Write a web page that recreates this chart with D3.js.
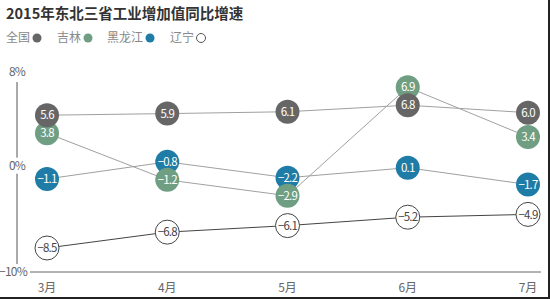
<!DOCTYPE html>
<html lang="zh">
<head>
  <meta charset="UTF-8">
  <title>2015年东北三省工业增加值同比增速</title>
  <script src="https://d3js.org/d3.v7.min.js"></script>
  <style>
    body {
      margin: 0;
      background: #fff;
      font-family: "Noto Sans CJK SC", "Noto Sans", sans-serif;
    }
    svg {
      display: block;
    }
  </style>
</head>
<body>
  <svg width="550" height="299"></svg>

  <script>
    const months = ["3月", "4月", "5月", "6月", "7月"];
    const national = [5.6, 5.9, 6.1, 6.8, 6.0];
    const jilin = [3.8, -1.2, -2.9, 6.9, 3.4];
    const heilongjiang = [-1.1, -0.8, -2.2, 0.1, -1.7];
    const liaoning = [-8.5, -6.8, -6.1, -5.2, -4.9];
    const yTicks = [8, 0, -10];

    const width = 550;
    const height = 299;
    const r = 12;

    const svg = d3.select("svg");

    // series, in drawing order (bottom first)
    const series = [
      {name: "黑龙江", values: heilongjiang, fill: "#1f7ca6", stroke: "none", text: "#fff", line: "#a0a0a0"},
      {name: "吉林", values: jilin, fill: "#6f9e83", stroke: "none", text: "#fff", line: "#a0a0a0"},
      {name: "全国", values: national, fill: "#666", stroke: "none", text: "#fff", line: "#a0a0a0"},
      {name: "辽宁", values: liaoning, fill: "#fff", stroke: "#444", text: "#444", line: "#444"}
    ];
    const legendOrder = ["全国", "吉林", "黑龙江", "辽宁"];

    const x = d3.scalePoint()
      .domain(months)
      .range([47, 528]);

    const y = d3.scaleLinear()
      .domain([-10, 8])
      .range([262, 94]);

    // title
    svg.append("text")
      .attr("x", 6)
      .attr("y", 19)
      .attr("font-size", 14.5)
      .attr("font-weight", "bold")
      .attr("fill", "#333")
      .text("2015年东北三省工业增加值同比增速");

    // legend
    const legendX = [6, 57, 107, 170];
    const legend = svg.append("g").attr("font-size", 12);
    legendOrder.forEach((name, i) => {
      const s = series.find(d => d.name === name);
      const t = legend.append("text")
        .attr("x", legendX[i])
        .attr("y", 42)
        .attr("fill", "#888")
        .text(name);
      const w = t.node().getComputedTextLength();
      legend.append("circle")
        .attr("cx", legendX[i] + w + 7)
        .attr("cy", 38)
        .attr("r", 4.5)
        .attr("fill", s.fill)
        .attr("stroke", s.stroke === "none" ? "none" : "#555")
        .attr("stroke-width", 1);
    });

    // axes
    const axisX = 17;
    const baseY = y(-10) + 10;
    svg.append("line")
      .attr("x1", axisX).attr("x2", axisX)
      .attr("y1", y(8) - 12).attr("y2", baseY)
      .attr("stroke", "#555").attr("stroke-width", 1);
    svg.append("line")
      .attr("x1", 27).attr("x2", 541)
      .attr("y1", baseY).attr("y2", baseY)
      .attr("stroke", "#666").attr("stroke-width", 1);

    const tickY = d => d === 8 ? y(d) - 22 : d === -10 ? baseY : y(d) - 3;
    const ticks = svg.append("g").attr("font-size", 12).attr("fill", "#666");
    yTicks.forEach(d => {
      ticks.append("rect")
        .attr("x", axisX - (d === -10 ? 17 : 9))
        .attr("y", tickY(d) - 8)
        .attr("width", d === -10 ? 30 : 18)
        .attr("height", 16)
        .attr("fill", "#fff");
      ticks.append("text")
        .attr("x", d === -10 ? 13 : axisX)
        .attr("y", tickY(d))
        .attr("dy", "0.35em")
        .attr("text-anchor", "middle")
        .attr("letter-spacing", -0.8)
        .text((d < 0 ? "−" : "") + Math.abs(d) + "%");
    });

    svg.append("g")
      .attr("font-size", 12)
      .attr("fill", "#666")
      .selectAll("text")
      .data(months)
      .join("text")
      .attr("x", d => x(d))
      .attr("y", 292)
      .attr("text-anchor", "middle")
      .text(d => d);

    // point positions, nudging circles that would overlap in the same month
    series.forEach(s => {
      s.points = s.values.map((v, i) => ({v, m: months[i], cx: x(months[i]), cy: y(v)}));
    });
    months.forEach((m, i) => {
      const pts = series.map(s => s.points[i]).sort((a, b) => b.v - a.v);
      for (let k = pts.length - 2; k >= 0; k--) {
        const lower = pts[k + 1], upper = pts[k];
        if (lower.cy - upper.cy < 18) upper.cy = lower.cy - 18;
      }
    });

    const line = d3.line().x(d => d.cx).y(d => d.cy);

    svg.append("g")
      .selectAll("path")
      .data(series)
      .join("path")
      .attr("d", s => line(s.points))
      .attr("fill", "none")
      .attr("stroke", s => s.line)
      .attr("stroke-width", 1);

    const fmt = v => (v < 0 ? "−" : "") + Math.abs(v).toFixed(1);

    series.forEach(s => {
      const g = svg.append("g");
      g.selectAll("circle")
        .data(s.points)
        .join("circle")
        .attr("cx", d => d.cx)
        .attr("cy", d => d.cy)
        .attr("r", r)
        .attr("fill", s.fill)
        .attr("stroke", s.stroke)
        .attr("stroke-width", 1);
      g.selectAll("text")
        .data(s.points)
        .join("text")
        .attr("x", d => d.cx)
        .attr("y", d => d.cy)
        .attr("dy", "0.36em")
        .attr("text-anchor", "middle")
        .attr("font-size", 11.5)
        .attr("letter-spacing", -0.8)
        .attr("fill", s.text)
        .text(d => fmt(d.v));
    });

    // frame edges
    svg.append("line")
      .attr("x1", 0).attr("x2", width)
      .attr("y1", height - 1).attr("y2", height - 1)
      .attr("stroke", "#222").attr("stroke-width", 2);
    svg.append("line")
      .attr("x1", width - 1).attr("x2", width - 1)
      .attr("y1", 0).attr("y2", height)
      .attr("stroke", "#222").attr("stroke-width", 2);
  </script>
</body>
</html>
